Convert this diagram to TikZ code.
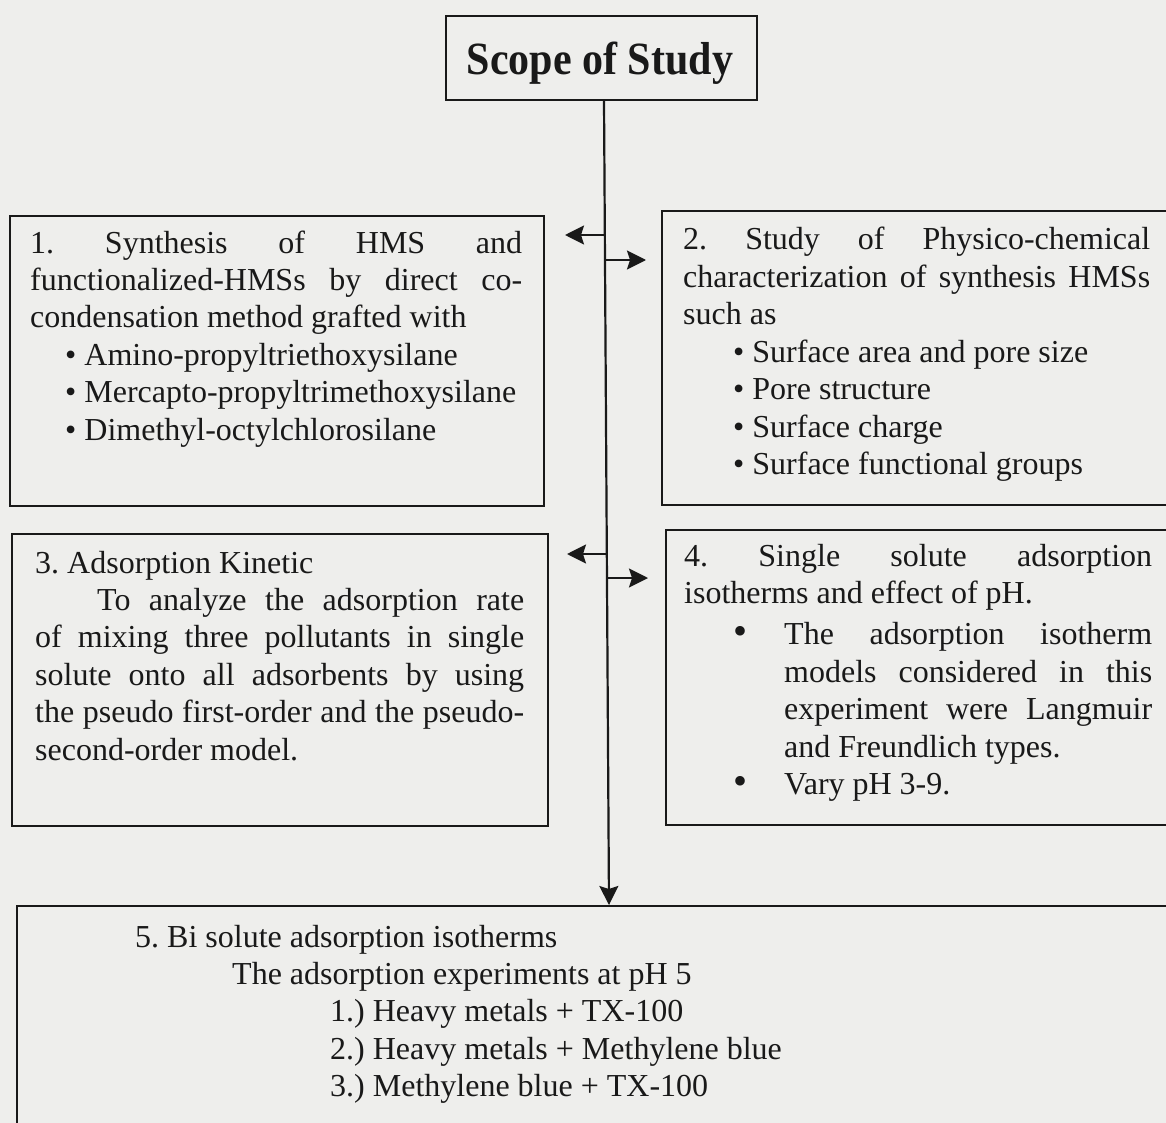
\documentclass[tikz,border=0pt]{standalone}
\usepackage{fontspec}
\setmainfont{Liberation Serif}
\usetikzlibrary{arrows.meta}
\definecolor{paper}{RGB}{238,238,236}
\definecolor{ink}{RGB}{25,25,25}
\tikzset{
  boxst/.style={draw=ink, line width=2pt, anchor=north west, inner sep=0pt},
  txt/.style={anchor=base west, inner sep=0pt, text=ink},
  conn/.style={draw=ink, line width=2.2pt, -{Stealth[length=19pt,width=19pt,inset=3pt]}},
}
\newcommand{\bodyfont}{\fontsize{32}{37.4}\selectfont\frenchspacing}
\newcommand{\jline}[2]{\makebox[#1][s]{#2}}
\newcommand{\bigbul}{{\fontsize{40}{37.4}\selectfont\textbullet}}
\begin{document}
\begin{tikzpicture}[x=1pt,y=-1pt]
\fill[paper] (0,0) rectangle (1166,1123);
\useasboundingbox (0,0) rectangle (1166,1123);

% boxes
\node[boxst, minimum width=311pt, minimum height=84pt] (title) at (445,15) {};
\node[txt, anchor=base, font=\fontsize{42}{42}\selectfont\bfseries] (titletxt) at (600,75) {\scalebox{1}[1.1]{Scope of Study}};
\node[boxst, minimum width=534pt, minimum height=290pt] (b1) at (9,215) {};
\node[boxst, minimum width=530pt, minimum height=294pt] (b2) at (661,210) {};
\node[boxst, minimum width=536pt, minimum height=292pt] (b3) at (11,533) {};
\node[boxst, minimum width=526pt, minimum height=295pt] (b4) at (665,529) {};
\node[boxst, minimum width=1175pt, minimum height=240pt] (b5) at (16,905) {};

% texts
\node[txt] (t1) at (30,253) {\parbox[t]{492pt}{\bodyfont
\jline{492pt}{1. Synthesis of HMS and}\\
\jline{492pt}{functionalized-HMSs by direct co-}\\
condensation method grafted with\\
\hspace*{35pt}\textbullet\ Amino-propyltriethoxysilane\\
\hspace*{35pt}\textbullet\ Mercapto-propyltrimethoxysilane\\
\hspace*{35pt}\textbullet\ Dimethyl-octylchlorosilane}};

\node[txt] (t2) at (683,250) {\parbox[t]{467pt}{\bodyfont
\jline{467pt}{2. Study of Physico-chemical}\\
\jline{467pt}{characterization of synthesis HMSs}\\
such as\\
\hspace*{50pt}\textbullet\ Surface area and pore size\\
\hspace*{50pt}\textbullet\ Pore structure\\
\hspace*{50pt}\textbullet\ Surface charge\\
\hspace*{50pt}\textbullet\ Surface functional groups}};

\node[txt] (t3) at (35,573) {\parbox[t]{489pt}{\bodyfont
3. Adsorption Kinetic\\
\hspace*{62pt}\jline{427pt}{To analyze the adsorption rate}\\
\jline{489pt}{of mixing three pollutants in single}\\
\jline{489pt}{solute onto all adsorbents by using}\\
\jline{489pt}{the pseudo first-order and the pseudo-}\\
second-order model.}};

\node[txt] (t4) at (684,566) {\parbox[t]{468pt}{\bodyfont
\jline{468pt}{4. Single solute adsorption}\\
isotherms and effect of pH.\\[4pt]
\hspace*{49pt}\makebox[51pt][l]{\bigbul}\jline{368pt}{The adsorption isotherm}\\
\hspace*{100pt}\jline{368pt}{models considered in this}\\
\hspace*{100pt}\jline{368pt}{experiment were Langmuir}\\
\hspace*{100pt}and Freundlich types.\\
\hspace*{49pt}\makebox[51pt][l]{\bigbul}Vary pH 3-9.}};

\node[txt] (t5) at (135,947) {\parbox[t]{900pt}{\bodyfont
5. Bi solute adsorption isotherms\\
\hspace*{97pt}The adsorption experiments at pH 5\\
\hspace*{195pt}1.) Heavy metals + TX-100\\
\hspace*{195pt}2.) Heavy metals + Methylene blue\\
\hspace*{195pt}3.) Methylene blue + TX-100}};

% connectors
\coordinate (j1) at (605,235);
\coordinate (j2) at (605,260);
\coordinate (j3) at (607,554);
\coordinate (j4) at (607,578);
\coordinate (e1) at (565,235);
\coordinate (e2) at (646,260);
\coordinate (e3) at (567,554);
\coordinate (e4) at (648,578);
\draw[conn] (title.south -| 604,0) -- (b5.north -| 609,0);
\draw[conn] (j1) -- (e1);
\draw[conn] (j2) -- (e2);
\draw[conn] (j3) -- (e3);
\draw[conn] (j4) -- (e4);
\end{tikzpicture}
\end{document}
